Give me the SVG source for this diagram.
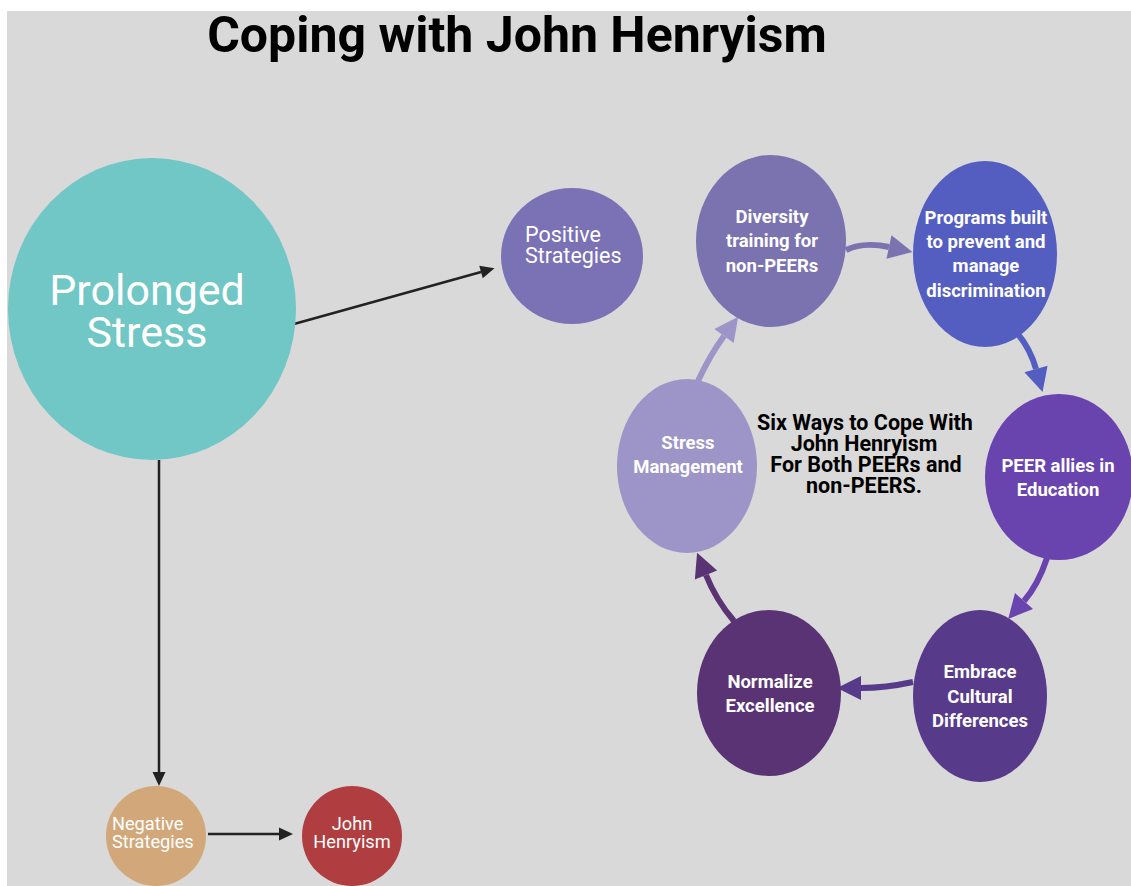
<svg xmlns="http://www.w3.org/2000/svg" width="1131" height="886" viewBox="0 0 1131 886">
<style>
.t{font-family:Roboto,"Liberation Sans",sans-serif;fill:#fff}
.r{font-weight:400}
.b{font-weight:700}
.c{text-anchor:middle}
.n{font-size:18.5px}
.blk{stroke:#222;stroke-width:2.5;fill:none}
.cyc{stroke-width:6;fill:none}
</style>
<defs>
<marker id="ab" markerUnits="userSpaceOnUse" markerWidth="16" markerHeight="14" refX="0" refY="6.5" orient="auto" overflow="visible"><path d="M0,0 L14,6.5 L0,13 z" fill="#222"/></marker>
<marker id="m1" markerUnits="userSpaceOnUse" markerWidth="26" markerHeight="26" refX="0" refY="12" orient="auto" overflow="visible"><path d="M0,0 L24,12 L0,24 z" fill="#7B72B0"/></marker>
<marker id="m2" markerUnits="userSpaceOnUse" markerWidth="26" markerHeight="26" refX="0" refY="12" orient="auto" overflow="visible"><path d="M0,0 L24,12 L0,24 z" fill="#545EC0"/></marker>
<marker id="m3" markerUnits="userSpaceOnUse" markerWidth="26" markerHeight="26" refX="0" refY="12" orient="auto" overflow="visible"><path d="M0,0 L24,12 L0,24 z" fill="#6944AE"/></marker>
<marker id="m4" markerUnits="userSpaceOnUse" markerWidth="26" markerHeight="26" refX="0" refY="12" orient="auto" overflow="visible"><path d="M0,0 L24,12 L0,24 z" fill="#573A8A"/></marker>
<marker id="m5" markerUnits="userSpaceOnUse" markerWidth="26" markerHeight="26" refX="0" refY="12" orient="auto" overflow="visible"><path d="M0,0 L24,12 L0,24 z" fill="#5A3374"/></marker>
<marker id="m6" markerUnits="userSpaceOnUse" markerWidth="26" markerHeight="26" refX="0" refY="12" orient="auto" overflow="visible"><path d="M0,0 L24,12 L0,24 z" fill="#9D94C8"/></marker>
</defs>
<rect x="0" y="0" width="1131" height="886" fill="#fff"/>
<rect x="7" y="11" width="1124" height="875" fill="#D9D9D9"/>
<text x="517" y="52" class="t b c" style="fill:#000;font-size:50px">Coping with John Henryism</text>

<g id="connectors">
<path class="blk" d="M294,324 L481,272" marker-end="url(#ab)"/>
<path class="blk" d="M159,460 L159,772" marker-end="url(#ab)"/>
<path class="blk" d="M208,834 L279,834" marker-end="url(#ab)"/>
<path class="cyc" stroke="#7B72B0" d="M846,250 C858,244 875,244 889,247" marker-end="url(#m1)"/>
<path class="cyc" stroke="#545EC0" d="M1017,333 Q1030,348 1036,369" marker-end="url(#m2)"/>
<path class="cyc" stroke="#6944AE" d="M1047,558 Q1038,585 1024,601" marker-end="url(#m3)"/>
<path class="cyc" stroke="#573A8A" d="M913,682 Q885,688 861,688" marker-end="url(#m4)"/>
<path class="cyc" stroke="#5A3374" d="M734,621 Q716,600 706,575" marker-end="url(#m5)"/>
<path class="cyc" stroke="#9D94C8" d="M698,381 Q710,355 724,336" marker-end="url(#m6)"/>
</g>

<g id="prolonged-stress">
<ellipse cx="152" cy="309" rx="144" ry="151" fill="#70C7C5"/>
<text class="t r c" x="147" y="305" style="font-size:43px">Prolonged</text>
<text class="t r c" x="147" y="347" style="font-size:43px">Stress</text>
</g>
<g id="positive-strategies">
<ellipse cx="572" cy="256" rx="71" ry="68" fill="#7B71B5"/>
<text class="t r" x="525" y="242" style="font-size:21.5px">Positive</text>
<text class="t r" x="525" y="263" style="font-size:21.5px">Strategies</text>
</g>
<g id="negative-strategies">
<ellipse cx="156" cy="836" rx="50" ry="50" fill="#D2A87A"/>
<text class="t r" x="112" y="830" style="font-size:18.2px">Negative</text>
<text class="t r" x="112" y="848" style="font-size:18.2px">Strategies</text>
</g>
<g id="john-henryism">
<ellipse cx="352" cy="836" rx="50" ry="50" fill="#B03E40"/>
<text class="t r c" x="352" y="830" style="font-size:18.2px">John</text>
<text class="t r c" x="352" y="848" style="font-size:18.2px">Henryism</text>
</g>
<g id="diversity-training">
<ellipse cx="771" cy="241" rx="75" ry="86" fill="#7B72B0"/>
<text class="t b c n" x="772" y="223">Diversity</text>
<text class="t b c n" x="772" y="247">training for</text>
<text class="t b c n" x="772" y="272">non-PEERs</text>
</g>
<g id="programs">
<ellipse cx="985" cy="254" rx="72" ry="93" fill="#545EC0"/>
<text class="t b c n" x="986" y="224">Programs built</text>
<text class="t b c n" x="986" y="248">to prevent and</text>
<text class="t b c n" x="986" y="272">manage</text>
<text class="t b c n" x="986" y="297">discrimination</text>
</g>
<g id="peer-allies">
<ellipse cx="1059" cy="477" rx="74" ry="83" fill="#6944AE"/>
<text class="t b c n" x="1058" y="472">PEER allies in</text>
<text class="t b c n" x="1058" y="496">Education</text>
</g>
<g id="embrace-cultural">
<ellipse cx="980" cy="696" rx="67" ry="86" fill="#573A8A"/>
<text class="t b c n" x="980" y="678">Embrace</text>
<text class="t b c n" x="980" y="703">Cultural</text>
<text class="t b c n" x="980" y="727">Differences</text>
</g>
<g id="normalize-excellence">
<ellipse cx="769" cy="693" rx="72" ry="83" fill="#5A3374"/>
<text class="t b c n" x="770" y="688">Normalize</text>
<text class="t b c n" x="770" y="712">Excellence</text>
</g>
<g id="stress-management">
<ellipse cx="687" cy="466" rx="70" ry="87" fill="#9D94C8"/>
<text class="t b c n" x="688" y="449">Stress</text>
<text class="t b c n" x="688" y="473">Management</text>
</g>
<g id="center-label">
<text class="t b c" x="865" y="430" style="fill:#000;font-size:21.5px">Six Ways to Cope With</text>
<text class="t b c" x="864" y="451" style="fill:#000;font-size:21.5px">John Henryism</text>
<text class="t b c" x="866" y="472" style="fill:#000;font-size:21.5px">For Both PEERs and</text>
<text class="t b c" x="864" y="493" style="fill:#000;font-size:21.5px">non-PEERS.</text>
</g>
</svg>
